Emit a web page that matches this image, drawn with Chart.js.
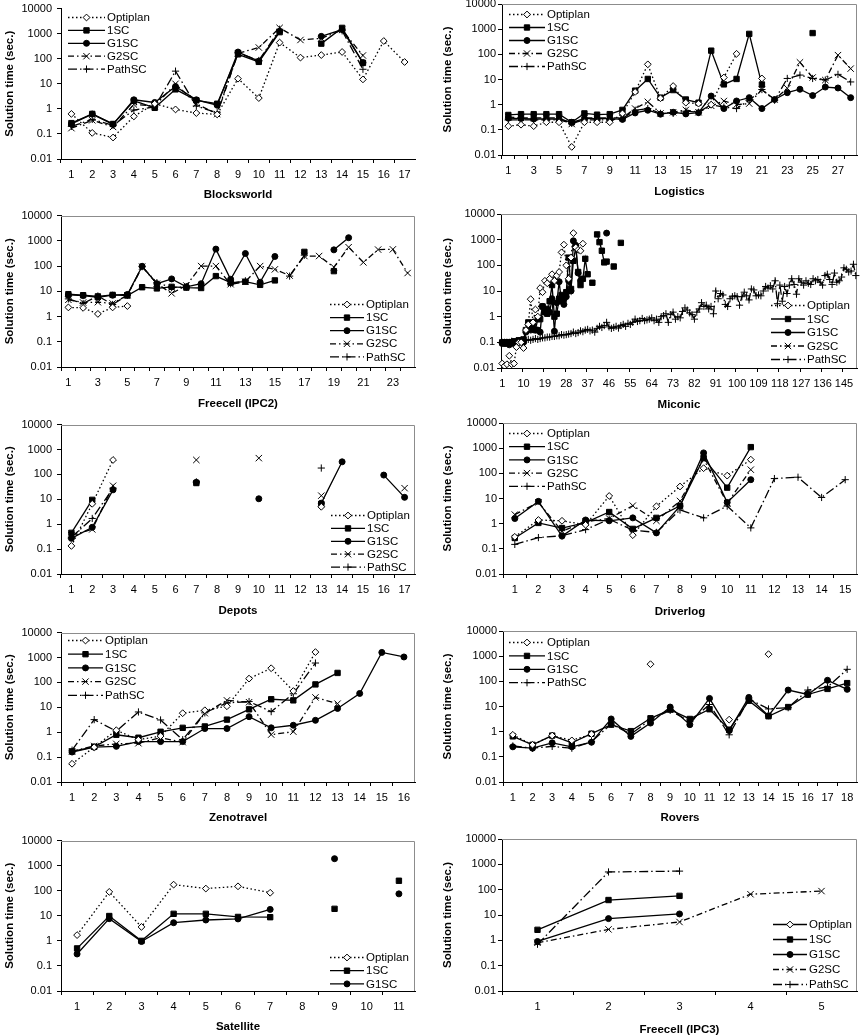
<!DOCTYPE html>
<html><head><meta charset="utf-8">
<script src="https://cdn.jsdelivr.net/npm/chart.js@4.4.1/dist/chart.umd.min.js"></script>
<style>html,body{margin:0;padding:0;background:#fff;width:861px;height:1035px;overflow:hidden;position:relative}</style>
</head><body>
<script>
// ---------- data ----------
const yTickValues = [0.01, 0.1, 1, 10, 100, 1000, 10000];
const yTickLabels = ['0.01', '0.1', '1', '10', '100', '1000', '10000'];
const yTitle = 'Solution time (sec.)';
function seq(n) { const a = []; for (let i = 1; i <= n; i++) a.push(String(i)); return a; }

// Blocksworld
const bwCats = seq(17);
const bwOptiplan = [0.63, 0.11, 0.072, 0.5, 1.6, 0.95, 0.68, 0.6, 16, 2.7, 440, 111, 140, 186, 15, 510, 74];
const bw1SC = [0.27, 0.63, 0.25, 2.1, 1.1, 6.0, 2.2, 1.6, 150, 75, 1150, null, 400, 1700, 68];
const bwG1SC = [0.25, 0.62, 0.24, 2.3, 1.8, 7.8, 2.3, 1.4, 185, 80, 1250, null, 780, 1450, 70];
const bwG2SC = [0.17, 0.35, 0.19, 1.5, 1.3, 10, 1.6, 0.62, 165, 280, 1700, 560, 650, 1400, 135];
const bwPathSC = [0.2, 0.38, 0.22, 0.9, 1.2, 32, 1.3, 0.7, 170, 85, 1500, null, null, 1300, 38];

// Logistics
const loCats = seq(28);
const loOptiplan = [0.14, 0.16, 0.14, 0.2, 0.2, 0.021, 0.2, 0.2, 0.2, 0.45, 3.2, 40, 1.8, 5.5, 1.2, 1.1, 1.0, 12, 105, null, 11];
const lo1SC = [0.39, 0.42, 0.42, 0.42, 0.42, 0.2, 0.45, 0.4, 0.42, 0.62, 3.6, 10.5, 1.9, 3.8, 1.6, 1.2, 140, 6.4, 10.5, 650, 6.3, null, null, null, 700];
const loG1SC = [0.29, 0.28, 0.27, 0.27, 0.27, 0.2, 0.28, 0.28, 0.28, 0.26, 0.47, 0.6, 0.42, 0.5, 0.43, 0.48, 2.2, 0.7, 1.4, 1.9, 0.7, 1.6, 3.0, 4.1, 2.3, 5.0, 4.6, 1.9];
const loG2SC = [0.32, 0.3, 0.3, 0.3, 0.3, 0.17, 0.3, 0.3, 0.3, 0.3, 0.7, 1.3, 0.45, 0.5, 0.62, 0.5, 0.9, 1.4, 1.0, 1.1, 4.0, 1.6, 4.5, 48, 12, 9.5, 93, 27];
const loPathSC = [0.25, 0.25, 0.25, 0.25, 0.25, 0.18, 0.25, 0.25, 0.25, 0.28, 0.6, 0.7, 0.45, 0.45, 0.55, 0.5, 1.0, 0.8, 0.7, 1.5, 4.0, 1.5, 11, 15, 11, 9.5, 16, 8];

// Freecell (IPC2)
const f2Cats = seq(24);
const f2Optiplan = [2.3, 2.2, 1.27, 2.3, 2.6];
const f21SC = [7.7, 7.0, 6.3, 7.2, 6.8, 14.5, 13, 15, 14, 13.5, 40, 22, 24, 18, 27, null, 365, null, 63];
const f2G1SC = [7.2, 6.8, 5.8, 7.0, 7.5, 98, 20, 31, 15, 20, 470, 30, 315, 23, 240, null, null, null, 440, 1330];
const f2G2SC = [4.6, 3.6, 3.7, 3.3, 7, 95, 20, 8.3, 17, 100, 100, 19, 24, 100, 74, 42, 250, 250, 90, 560, 140, 450, 460, 53];
const f2PathSC = [5, 3.3, 6.5, 3, 7, 95, 22, 14, 15, null, null, 20, 26, null, null, 40, 270];

// Miconic
const miCats = seq(150);
const miOptiplan = [0.015, 0.012, 0.014, 0.03, 0.014, 0.015, 0.065, 0.1, 0.1, 0.06, 0.3, 0.5, 4.8, 0.6, 1.9, 1.0, 13, 9, 25, 20, 30, 45, 25, 40, 55, 320, 640, 100, 30, 200, 1800, 500, 400, 370, 700];
const mi1SC = [0.1, 0.1, 0.09, 0.1, 0.1, 0.11, 0.1, 0.12, 0.12, 0.13, 0.3, 0.6, 0.35, 0.5, 0.3, 0.8, 0.8, 2.5, 1.5, 1.3, 4, 17, 1, 1.3, 5, 7, 5, 9, 200, 12, 150, 500, 55, 17, 30, 180, 45, null, 21, null, 1600, 800, 370, 130, 140, null, null, 90, null, null, 750];
const miG1SC = [0.09, 0.09, 0.1, 0.08, 0.09, 0.1, 0.09, 0.1, 0.11, 0.1, 0.25, 0.5, 0.3, 0.6, 0.3, 0.3, 0.25, 2.5, 1.5, 2, 1.5, 5, 0.27, 3.5, 23, 4, 3, 6, 25, 10, 900, 600, 50, 25, null, null, null, null, null, null, null, null, null, null, 1800];
const miG2SC = [];
const miPathSC = [
  0.1, 0.1, 0.1, 0.1, 0.11, 0.1, 0.11, 0.11, 0.12, 0.12,
  0.12, 0.13, 0.12, 0.13, 0.14, 0.13, 0.14, 0.15, 0.15, 0.16,
  0.16, 0.17, 0.17, 0.18, 0.18, 0.2, 0.19, 0.2, 0.21, 0.22,
  0.25, 0.22, 0.24, 0.28, 0.26, 0.3, 0.32, 0.28, 0.3, 0.25,
  0.35, 0.42, 0.38, 0.45, 0.6, 0.4, 0.35, 0.38, 0.42, 0.36,
  0.45, 0.5, 0.42, 0.55, 0.5, 0.6, 0.8, 0.65, 0.7, 0.85,
  0.7, 0.75, 0.8, 0.9, 0.7, 0.8, 0.6, 1.0, 1.1, 1.3,
  0.6, 1.2, 1.5, 0.8, 1.0, 0.9, 1.6, 2.2, 1.8, 1.4,
  1.2, 0.8, 1.5, 2.0, 3.5, 2.5, 2.8, 2.0, 2.5, 1.3,
  10, 5, 8, 7, 3.0, 2.5, 5, 6, 6.5, 6,
  2.8, 6, 9, 6.5, 4.5, 12, 11, 6.5, 7, 6.5,
  10, 15, 13, 16, 12, 25, 3.2, 17, 4, 15,
  8, 17, 30, 18, 7.5, 30, 22, 17, 25, 20,
  18, 30, 25, 28, 22, 17, 40, 45, 28, 18,
  50, 22, 25, 35, 80, 70, 55, 60, 110, 40];

// Depots
const dpCats = seq(17);
const dpOptiplan = [0.134, 6.6, 380, null, null, null, null, null, null, null, null, null, 5];
const dp1SC = [0.45, 9.5, null, null, null, null, 45, null, null, null, null, null, 6.5];
const dpG1SC = [0.27, 0.75, 24, null, null, null, 48, null, null, 10.5, null, null, 7, 320, null, 94, 12];
const dpG2SC = [0.36, 0.62, 35, null, null, null, 380, null, null, 450, null, null, 14, null, null, null, 28];
const dpPathSC = [0.3, 1.7, 28, null, null, null, 50, null, null, null, null, null, 180];

// Driverlog
const drCats = seq(15);
const drOptiplan = [0.3, 1.4, 1.3, 0.9, 12.6, 0.35, 4.9, 30, 160, 81, 350];
const dr1SC = [0.27, 1.07, 0.67, 1.1, 2.9, 0.62, 1.7, 5.1, 400, 27, 1100];
const drG1SC = [1.6, 7.7, 0.32, 1.4, 1.3, 1.7, 0.43, 5, 650, 7, 56];
const drG2SC = [2.3, 7, 0.5, 1.2, 1.6, 5.2, 1.3, 8, 370, 6.5, 140];
const drPathSC = [0.15, 0.28, 0.33, 0.58, 1.5, 0.55, 0.45, 3.5, 1.7, 5, 0.68, 62, 70, 11, 56];

// Zenotravel
const zeCats = seq(16);
const zeOptiplan = [0.054, 0.25, 1.2, 0.5, 0.7, 5.8, 7.6, 11, 142, 370, 45, 1650];
const ze1SC = [0.17, 0.26, 0.79, 0.6, 1.04, 1.5, 1.7, 3.2, 8.3, 21, 19, 83, 240];
const zeG1SC = [0.16, 0.25, 0.27, 0.42, 0.42, 0.42, 1.4, 1.4, 4.2, 1.5, 1.9, 3.0, 9, 36, 1600, 1050];
const zeG2SC = [0.17, 0.28, 0.34, 0.36, 0.6, 0.4, 5.8, 19, 16, 0.8, 1.05, 25, 14];
const zePathSC = [0.19, 3.2, 1.1, 6.5, 3.1, 0.5, 6, 15, 17, 6.7, 35, 600];

// Rovers
const roCats = seq(18);
const roOptiplan = [0.75, 0.3, 0.7, 0.45, 0.8, null, null, 480, null, null, null, 3, null, 1200];
const ro1SC = [0.65, 0.3, 0.7, 0.36, 0.83, 1.9, 1.05, 3.4, 7.5, 3.2, 7.8, 1.2, 17, 4.1, 9.5, 30, 50, 85];
const roG1SC = [0.25, 0.22, 0.36, 0.25, 0.38, 3.2, 0.65, 2.2, 9.5, 1.9, 21, 1.1, 23, 4.3, 45, 30, 110, 48];
const roPathSC = [0.27, 0.22, 0.26, 0.22, 0.4, 2.0, 0.8, 3, 7, 2.5, 12, 0.75, 20, 8, 9, 45, 60, 300];

// Satellite
const saCats = seq(11);
const saOptiplan = [1.7, 90, 3.6, 175, 122, 150, 83];
const sa1SC = [0.5, 9.8, 1.0, 12, 12, 9, 8.8, null, 19, null, 250];
const saG1SC = [0.3, 7.7, 0.94, 5.3, 6.8, 7.5, 18, null, 1900, null, 75];

// Freecell (IPC3)
const f3Cats = seq(5);
const f3Optiplan = [];
const f31SC = [2.6, 39, 57];
const f3G1SC = [0.9, 7.2, 11];
const f3G2SC = [0.8, 2.7, 5.3, 66, 88];
const f3PathSC = [0.7, 500, 540];

// ---------- styles ----------
const FONT = "'Liberation Sans', Arial, Helvetica, sans-serif";
const STYLE = {
  'Optiplan': { borderDash: [1.5, 2.5], pointStyle: 'rectRot', pointRadius: 3.4, pointBackgroundColor: '#fff' },
  '1SC': { borderDash: [], pointStyle: 'rect', pointRadius: 3.8, pointBackgroundColor: '#000' },
  'G1SC': { borderDash: [], pointStyle: 'circle', pointRadius: 3, pointBackgroundColor: '#000' },
  'G2SC': { borderDash: [6, 3, 1.5, 3], pointStyle: 'crossRot', pointRadius: 4.5, pointBackgroundColor: '#000' },
  'PathSC': { borderDash: [9, 3, 1.5, 3], pointStyle: 'cross', pointRadius: 3.6, pointBackgroundColor: '#000' }
};

function drawMarker(ctx, style, x, y, r, fill) {
  ctx.save();
  ctx.setLineDash([]);
  ctx.lineWidth = 1; ctx.strokeStyle = '#000'; ctx.fillStyle = fill;
  ctx.beginPath();
  if (style === 'rectRot') {
    ctx.moveTo(x, y - r); ctx.lineTo(x + r, y); ctx.lineTo(x, y + r); ctx.lineTo(x - r, y); ctx.closePath();
    ctx.fill(); ctx.stroke();
  } else if (style === 'rect') {
    const s = r * Math.SQRT1_2; ctx.rect(x - s, y - s, 2 * s, 2 * s); ctx.fill(); ctx.stroke();
  } else if (style === 'circle') {
    ctx.arc(x, y, r, 0, Math.PI * 2); ctx.fill(); ctx.stroke();
  } else if (style === 'crossRot') {
    const d = r * Math.SQRT1_2; ctx.moveTo(x - d, y - d); ctx.lineTo(x + d, y + d); ctx.moveTo(x + d, y - d); ctx.lineTo(x - d, y + d); ctx.stroke();
  } else if (style === 'cross') {
    ctx.moveTo(x - r, y); ctx.lineTo(x + r, y); ctx.moveTo(x, y - r); ctx.lineTo(x, y + r); ctx.stroke();
  }
  ctx.restore();
}

const inLegend = {
  id: 'inLegend',
  afterDatasetsDraw(chart, args, o) {
    if (!o || !o.items) return;
    const ctx = chart.ctx;
    o.items.forEach((it, i) => {
      const st = STYLE[it.name];
      const x = o.x - o.ox, y = o.y + i * o.dy - o.oy;
      ctx.save();
      ctx.strokeStyle = '#000'; ctx.lineWidth = 1.3;
      ctx.setLineDash(it.dash !== undefined ? it.dash : st.borderDash);
      ctx.beginPath(); ctx.moveTo(x, y + 0.5); ctx.lineTo(x + o.len, y + 0.5); ctx.stroke();
      drawMarker(ctx, st.pointStyle, x + o.len / 2, y + 0.5, st.pointRadius, st.pointBackgroundColor);
      ctx.fillStyle = '#000'; ctx.font = '11.5px ' + FONT; ctx.textBaseline = 'middle'; ctx.textAlign = 'left';
      ctx.fillText(it.name, x + o.len + 2, y + 1);
      ctx.restore();
    });
  }
};

const plotBorder = {
  id: 'plotBorder',
  beforeDatasetsDraw(chart, args, o) {
    if (!o || !o.show) return;
    const { left, top, right, bottom } = chart.chartArea;
    const ctx = chart.ctx;
    ctx.save(); ctx.strokeStyle = '#8c8c8c'; ctx.lineWidth = 1;
    ctx.beginPath(); ctx.moveTo(left, Math.round(top) + 0.5); ctx.lineTo(Math.round(right) - 0.5, Math.round(top) + 0.5);
    ctx.lineTo(Math.round(right) - 0.5, bottom); ctx.stroke(); ctx.restore();
  }
};
Chart.register(inLegend, plotBorder);

// ---------- panels ----------
const panels = [
  { title: 'Blocksworld', cats: bwCats, step: 1, tickStep: 1, side: 'L', L: 61, T: 7, B: 159, tY: 195, border: false,
    series: [['Optiplan', bwOptiplan], ['1SC', bw1SC], ['G1SC', bwG1SC], ['G2SC', bwG2SC], ['PathSC', bwPathSC]],
    leg: { x: 68, y: 17, dy: 12.9, len: 37 } },
  { title: 'Logistics', cats: loCats, step: 2, tickStep: 1, side: 'R', L: 502, T: 4, B: 155, tY: 192, border: true,
    series: [['Optiplan', loOptiplan], ['1SC', lo1SC], ['G1SC', loG1SC], ['G2SC', loG2SC], ['PathSC', loPathSC]],
    leg: { x: 509, y: 14, dy: 13, len: 36 } },
  { title: 'Freecell (IPC2)', cats: f2Cats, step: 2, tickStep: 1, side: 'L', L: 61, T: 214, B: 367, tY: 404, border: true,
    series: [['Optiplan', f2Optiplan], ['1SC', f21SC], ['G1SC', f2G1SC], ['G2SC', f2G2SC], ['PathSC', f2PathSC]],
    leg: { x: 330, y: 304, dy: 13.1, len: 34 } },
  { title: 'Miconic', cats: miCats, step: 9, tickStep: 9, side: 'R', L: 501, T: 214, B: 368, tY: 405, border: true,
    series: [['Optiplan', miOptiplan], ['1SC', mi1SC], ['G1SC', miG1SC], ['G2SC', miG2SC], ['PathSC', miPathSC]],
    leg: { x: 771, y: 305, dy: 13.5, len: 34 } },
  { title: 'Depots', cats: dpCats, step: 1, tickStep: 1, side: 'L', L: 61, T: 423, B: 574, tY: 611, border: true,
    series: [['Optiplan', dpOptiplan], ['1SC', dp1SC], ['G1SC', dpG1SC], ['G2SC', dpG2SC], ['PathSC', dpPathSC]],
    leg: { x: 331, y: 515, dy: 12.9, len: 34 } },
  { title: 'Driverlog', cats: drCats, step: 1, tickStep: 1, side: 'R', L: 503, T: 423, B: 574, tY: 611.5, border: true,
    series: [['Optiplan', drOptiplan], ['1SC', dr1SC], ['G1SC', drG1SC], ['G2SC', drG2SC], ['PathSC', drPathSC]],
    leg: { x: 509, y: 433, dy: 13.2, len: 36 } },
  { title: 'Zenotravel', cats: zeCats, step: 1, tickStep: 1, side: 'L', L: 61, T: 631, B: 782, tY: 818, border: true,
    series: [['Optiplan', zeOptiplan], ['1SC', ze1SC], ['G1SC', zeG1SC], ['G2SC', zeG2SC], ['PathSC', zePathSC]],
    leg: { x: 68, y: 640, dy: 13.7, len: 35 } },
  { title: 'Rovers', cats: roCats, step: 1, tickStep: 1, side: 'R', L: 503, T: 631, B: 782, tY: 818, border: true,
    series: [['Optiplan', roOptiplan], ['1SC', ro1SC], ['G1SC', roG1SC], ['PathSC', roPathSC]],
    leg: { x: 509, y: 642, dy: 13.4, len: 36 } },
  { title: 'Satellite', cats: saCats, step: 1, tickStep: 1, side: 'L', L: 61, T: 839, B: 991, tY: 1027, border: true,
    series: [['Optiplan', saOptiplan], ['1SC', sa1SC], ['G1SC', saG1SC]],
    leg: { x: 330, y: 957, dy: 13.2, len: 34 } },
  { title: 'Freecell (IPC3)', cats: f3Cats, step: 1, tickStep: 1, side: 'R', L: 502, T: 839, B: 991, tY: 1030, border: true,
    series: [['Optiplan', f3Optiplan], ['1SC', f31SC], ['G1SC', f3G1SC], ['G2SC', f3G2SC], ['PathSC', f3PathSC]],
    leg: { x: 773, y: 924, dy: 15, len: 34, solidOptiplan: true } }
];

Chart.defaults.font.family = FONT;
Chart.defaults.color = '#000';

panels.forEach(p => {
  const left = p.side === 'L';
  const x0 = left ? 0 : 438;
  const W = left ? 430 : 427;
  const R = left ? 415 : 857;
  const y0 = p.T - 10;
  const H = Math.round(p.tY + 11 - y0);
  const yW = p.L - x0;
  const xH = (y0 + H) - p.B;
  const cv = document.createElement('canvas');
  cv.width = W; cv.height = H;
  cv.style.cssText = `position:absolute;left:${x0}px;top:${y0}px;width:${W}px;height:${H}px`;
  document.body.appendChild(cv);

  const datasets = p.series.map(([name, data]) => {
    const st = STYLE[name];
    return {
      label: name, data: data,
      borderColor: '#000', borderWidth: 1.3, borderDash: st.borderDash,
      pointStyle: st.pointStyle, pointRadius: st.pointRadius, pointHoverRadius: st.pointRadius,
      pointBackgroundColor: st.pointBackgroundColor, pointBorderColor: '#000', pointBorderWidth: 1,
      fill: false, tension: 0, spanGaps: false
    };
  });
  const items = p.series.map(([name]) => (name === 'Optiplan' && p.leg.solidOptiplan) ? { name, dash: [] } : { name });

  new Chart(cv, {
    type: 'line',
    data: { labels: p.cats, datasets },
    options: {
      responsive: false, animation: false, devicePixelRatio: 1,
      layout: { padding: { top: 10, right: x0 + W - R, bottom: 0, left: 0 } },
      plugins: {
        legend: { display: false }, tooltip: { enabled: false },
        inLegend: Object.assign({ items, ox: x0, oy: y0 }, p.leg),
        plotBorder: { show: p.border }
      },
      scales: {
        x: {
          type: 'category', offset: true,
          grid: {
            offset: true, drawOnChartArea: false, drawTicks: true, tickLength: 4,
            color: c => (c.index % p.tickStep === 0 ? '#000' : 'rgba(0,0,0,0)'), lineWidth: 1
          },
          border: { display: true, color: '#000', width: 1 },
          ticks: {
            autoSkip: false, maxRotation: 0, minRotation: 0, padding: 5,
            font: { size: 11 }, color: '#000',
            callback: (v, i) => (i % p.step === 0 ? p.cats[i] : '')
          },
          title: { display: true, text: p.title, font: { size: 11.5, weight: 'bold' }, color: '#000', padding: { top: 2, bottom: 4 } },
          afterFit: s => { s.height = xH; }
        },
        y: {
          type: 'logarithmic', min: 0.01, max: 10000,
          afterBuildTicks: s => { s.ticks = yTickValues.map(v => ({ value: v })); },
          grid: { drawOnChartArea: false, drawTicks: true, tickLength: 4, color: '#000', lineWidth: 1 },
          border: { display: true, color: '#000', width: 1 },
          ticks: {
            font: { size: 11 }, color: '#000', padding: left ? 5 : 2, autoSkip: false,
            callback: v => { const k = yTickValues.indexOf(v); return k >= 0 ? yTickLabels[k] : ''; }
          },
          title: { display: true, text: yTitle, font: { size: 11.5, weight: 'bold' }, color: '#000', padding: { top: 3, bottom: 2 } },
          afterFit: s => { s.width = yW; }
        }
      }
    }
  });
});
</script>
</body></html>
